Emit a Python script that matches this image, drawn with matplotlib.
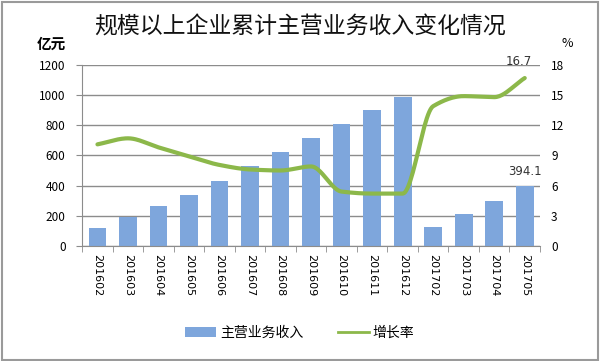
import matplotlib
matplotlib.use("Agg")
import matplotlib.pyplot as plt
import numpy as np
from matplotlib.lines import Line2D
from matplotlib.patches import Patch, Rectangle

plt.rcParams['font.family'] = ['Noto Sans CJK SC', 'DejaVu Sans']

months = ["201602", "201603", "201604", "201605", "201606", "201607", "201608",
          "201609", "201610", "201611", "201612", "201702", "201703", "201704", "201705"]
revenue = [117, 194, 267, 340, 431, 530, 621, 718, 809, 900, 990, 128, 210, 300, 394.1]
growth = [10.1, 10.7, 9.8, 8.9, 8.05, 7.6, 7.5, 7.9, 5.4, 5.2, 5.2, 13.9, 14.9, 14.8, 16.7]

bar_color = '#7EA6DC'
line_color = '#8CB84A'
grid_color = '#8C8C8C'

fig = plt.figure(figsize=(6.0, 3.61), dpi=100)
ax = fig.add_axes([0.137, 0.319, 0.763, 0.501])
x = np.arange(len(months))
ax.bar(x, revenue, width=0.58, color=bar_color, zorder=2)
ax.set_xlim(-0.5, len(months) - 0.5)
ax.set_ylim(0, 1200)
ax.set_yticks(range(0, 1201, 200))
ax.yaxis.grid(True, color=grid_color, linewidth=1)
ax.set_axisbelow(True)
for s in ['top', 'right']:
    ax.spines[s].set_visible(False)
for s in ['left', 'bottom']:
    ax.spines[s].set_color(grid_color)
ax.set_xticks(x)
ax.set_xticklabels(months, rotation=270, fontsize=8, family='DejaVu Sans')
ax.set_xticks(np.arange(-0.5, len(months), 1), minor=True)
ax.tick_params(axis='x', which='major', length=0, pad=6)
ax.tick_params(axis='x', which='minor', length=4, color=grid_color)
ax.tick_params(axis='y', length=4, color=grid_color, labelsize=8.5, pad=8)

ax2 = ax.twinx()
# Smoothed line through the data points (monotone cubic, no overshoot)
gx = np.asarray(x, float); gy = np.asarray(growth, float)
n = len(gx)
d = np.diff(gy)
m = np.zeros(n)
for i in range(1, n - 1):
    if d[i - 1] * d[i] > 0:
        m[i] = 2 * d[i - 1] * d[i] / (d[i - 1] + d[i])
m[0] = d[0]; m[-1] = d[-1]
t = np.linspace(0, 1, 25)
h00 = 2 * t**3 - 3 * t**2 + 1; h10 = t**3 - 2 * t**2 + t
h01 = -2 * t**3 + 3 * t**2; h11 = t**3 - t**2
sx, sy = [], []
for i in range(n - 1):
    sx.extend(gx[i] + t)
    sy.extend(h00 * gy[i] + h10 * m[i] + h01 * gy[i + 1] + h11 * m[i + 1])
ax2.plot(sx, sy, color=line_color, linewidth=3, solid_capstyle='round', zorder=3)
ax2.set_ylim(0, 18)
ax2.set_yticks(range(0, 19, 3))
ax2.tick_params(axis='y', length=0, labelsize=8.5, pad=8)
for s in ['top', 'right', 'left', 'bottom']:
    ax2.spines[s].set_visible(False)

ax.annotate(f"{revenue[-1]}", (x[-1], revenue[-1]), xytext=(0, 6), textcoords='offset points',
            ha='center', va='bottom', fontsize=8.5, family='DejaVu Sans', color='#333333')
ax2.annotate(f"{growth[-1]}", (x[-1], growth[-1]), xytext=(-4, 7), textcoords='offset points',
             ha='center', va='bottom', fontsize=8.5, family='DejaVu Sans', color='#333333')

fig.text(0.5, 0.925, "规模以上企业累计主营业务收入变化情况", ha='center', va='center',
         fontsize=16.5, fontweight='medium', color='#111111')
fig.text(0.085, 0.88, "亿元", ha='center', va='center', fontsize=10.5, fontweight='bold')
fig.text(0.945, 0.88, "%", ha='center', va='center', fontsize=9)

handles = [Patch(facecolor=bar_color, edgecolor='none'),
           Line2D([0], [0], color=line_color, linewidth=2)]
fig.legend(handles, ["主营业务收入", "增长率"], loc='center', bbox_to_anchor=(0.5, 0.077),
           ncol=2, frameon=False, fontsize=10, handlelength=2.2, columnspacing=2.5, handletextpad=0.3)

fig.patches.append(Rectangle((0.003, 0.004), 0.993, 0.99, transform=fig.transFigure,
                             fill=False, edgecolor='#9A9A9A', linewidth=1.5))
fig.savefig("out.png", dpi=100)
